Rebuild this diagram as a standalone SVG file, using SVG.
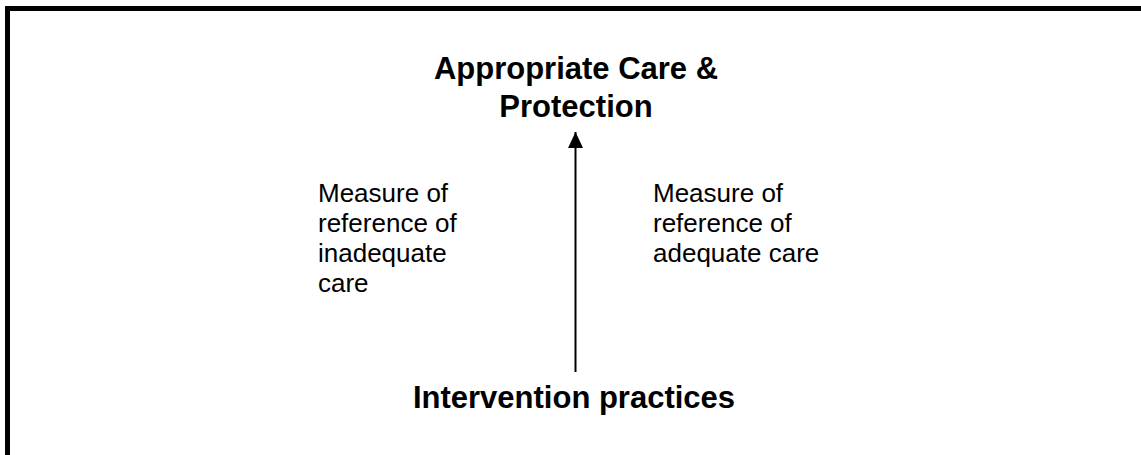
<svg xmlns="http://www.w3.org/2000/svg" width="1141" height="455" viewBox="0 0 1141 455">
<style>
.bold{font-family:"Liberation Sans",Arial,sans-serif;font-weight:bold;font-size:31px;fill:#000;text-anchor:middle}
.reg{font-family:"Liberation Sans",Arial,sans-serif;font-size:26px;fill:#000}
</style>
<defs>
<marker id="ah" markerWidth="16" markerHeight="15" refX="16" refY="7.5" orient="auto" markerUnits="userSpaceOnUse" viewBox="0 0 16 15">
<path d="M0,0 L16,7.5 L0,15 Z" fill="#000"/>
</marker>
</defs>
<rect width="1141" height="455" fill="#fff"/>
<g id="frame">
<rect x="5" y="6" width="1136" height="5" fill="#000"/>
<rect x="5" y="6" width="5" height="449" fill="#000"/>
</g>
<g id="outcome">
<text class="bold" x="576" y="79">Appropriate Care &amp;</text>
<text class="bold" x="576" y="117">Protection</text>
</g>
<g id="inadequate">
<text class="reg" x="318" y="202">Measure of</text>
<text class="reg" x="318" y="232">reference of</text>
<text class="reg" x="318" y="262">inadequate</text>
<text class="reg" x="318" y="292">care</text>
</g>
<g id="adequate">
<text class="reg" x="653" y="202">Measure of</text>
<text class="reg" x="653" y="232">reference of</text>
<text class="reg" x="653" y="262">adequate care</text>
</g>
<g id="intervention">
<text class="bold" x="574" y="408">Intervention practices</text>
</g>
<g id="connectors">
<line x1="575.5" y1="372" x2="575.5" y2="132" stroke="#000" stroke-width="2" marker-end="url(#ah)"/>
</g>
</svg>
